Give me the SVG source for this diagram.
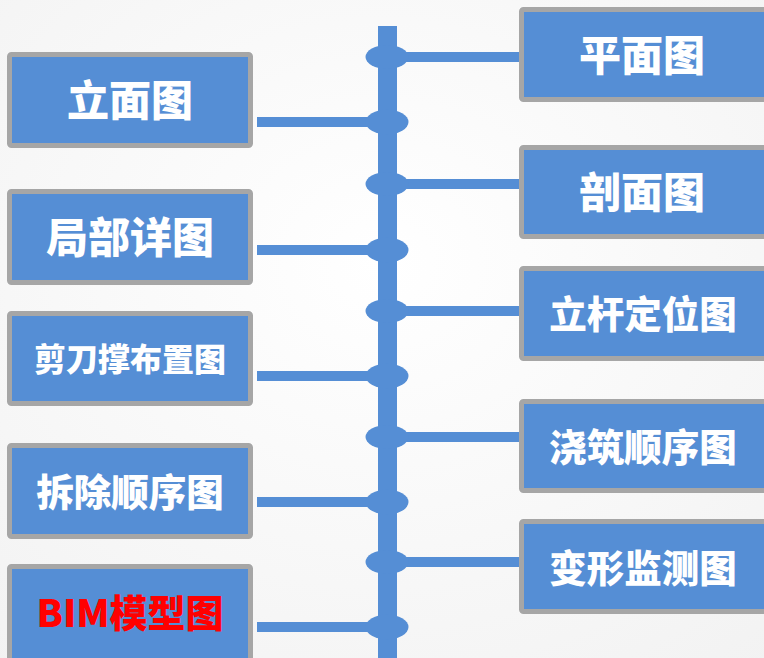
<svg xmlns="http://www.w3.org/2000/svg" width="764" height="658" viewBox="0 0 764 658">
  <defs>
    <radialGradient id="bg" cx="0.5" cy="0.4" r="0.8">
      <stop offset="0" stop-color="#ffffff"/>
      <stop offset="1" stop-color="#f2f2f2"/>
    </radialGradient>
    <style>
      .box { fill: #558ed5; stroke: #a6a6a6; stroke-width: 5; }
      .lbl { fill: #ffffff; font-family: "Noto Sans CJK SC", "Noto Sans", sans-serif; font-weight: 900; text-anchor: middle; }
      .red { fill: #ff0000; }
      .ln { stroke: #558ed5; stroke-width: 10; fill: none; }
      .dot { fill: #558ed5; }
    </style>
  </defs>
  <rect width="764" height="658" fill="url(#bg)"/>

  <g id="connectors">
    <rect x="378" y="26" width="19" height="640" fill="#558ed5"/>
    <!-- right branches -->
    <line class="ln" x1="387" y1="57" x2="521" y2="57"/>
    <line class="ln" x1="387" y1="184" x2="521" y2="184"/>
    <line class="ln" x1="387" y1="311" x2="521" y2="311"/>
    <line class="ln" x1="387" y1="437" x2="521" y2="437"/>
    <line class="ln" x1="387" y1="562" x2="521" y2="562"/>
    <!-- left branches -->
    <line class="ln" x1="257" y1="122" x2="387" y2="122"/>
    <line class="ln" x1="257" y1="250" x2="387" y2="250"/>
    <line class="ln" x1="257" y1="376" x2="387" y2="376"/>
    <line class="ln" x1="257" y1="502" x2="387" y2="502"/>
    <line class="ln" x1="257" y1="627" x2="387" y2="627"/>
    <!-- joints -->
    <ellipse class="dot" cx="387" cy="57" rx="21.5" ry="12"/>
    <ellipse class="dot" cx="387" cy="184" rx="21.5" ry="12"/>
    <ellipse class="dot" cx="387" cy="311" rx="21.5" ry="12"/>
    <ellipse class="dot" cx="387" cy="437" rx="21.5" ry="12"/>
    <ellipse class="dot" cx="387" cy="562" rx="21.5" ry="12"/>
    <ellipse class="dot" cx="387" cy="122" rx="21.5" ry="12.5"/>
    <ellipse class="dot" cx="387" cy="250" rx="21.5" ry="12.5"/>
    <ellipse class="dot" cx="387" cy="376" rx="21.5" ry="12.5"/>
    <ellipse class="dot" cx="387" cy="502" rx="21.5" ry="12.5"/>
    <ellipse class="dot" cx="387" cy="627" rx="21.5" ry="12.5"/>
  </g>

  <!-- left nodes -->
  <g id="n-limiantu">
    <rect class="box" x="9.5" y="54.5" width="241" height="91" rx="2"/>
    <text class="lbl" x="130" y="116" font-size="42">立面图</text>
  </g>
  <g id="n-jubuxiangtu">
    <rect class="box" x="9.5" y="191.5" width="241" height="91" rx="2"/>
    <text class="lbl" x="130" y="253" font-size="42">局部详图</text>
  </g>
  <g id="n-jiandaocheng">
    <rect class="box" x="9.5" y="313.5" width="241" height="90" rx="2"/>
    <text class="lbl" x="130" y="371" font-size="32">剪刀撑布置图</text>
  </g>
  <g id="n-chaichu">
    <rect class="box" x="9.5" y="445.5" width="241" height="91" rx="2"/>
    <text class="lbl" x="130" y="506" font-size="37.5">拆除顺序图</text>
  </g>
  <g id="n-bim">
    <rect class="box" x="9.5" y="566.5" width="241" height="100" rx="2"/>
    <text class="lbl red" x="130" y="627" font-size="38">BIM模型图</text>
  </g>

  <!-- right nodes -->
  <g id="n-pingmiantu">
    <rect class="box" x="521.5" y="9.5" width="250" height="90" rx="2"/>
    <text class="lbl" x="642" y="71" font-size="42">平面图</text>
  </g>
  <g id="n-poumiantu">
    <rect class="box" x="521.5" y="147.5" width="250" height="89" rx="2"/>
    <text class="lbl" x="642" y="208" font-size="42">剖面图</text>
  </g>
  <g id="n-liganding">
    <rect class="box" x="521.5" y="268.5" width="250" height="90" rx="2"/>
    <text class="lbl" x="643" y="328" font-size="37.5">立杆定位图</text>
  </g>
  <g id="n-jiaozhu">
    <rect class="box" x="521.5" y="401.5" width="250" height="89" rx="2"/>
    <text class="lbl" x="643" y="461" font-size="37.5">浇筑顺序图</text>
  </g>
  <g id="n-bianxing">
    <rect class="box" x="521.5" y="521.5" width="250" height="90" rx="2"/>
    <text class="lbl" x="643" y="582" font-size="37.5">变形监测图</text>
  </g>
</svg>
